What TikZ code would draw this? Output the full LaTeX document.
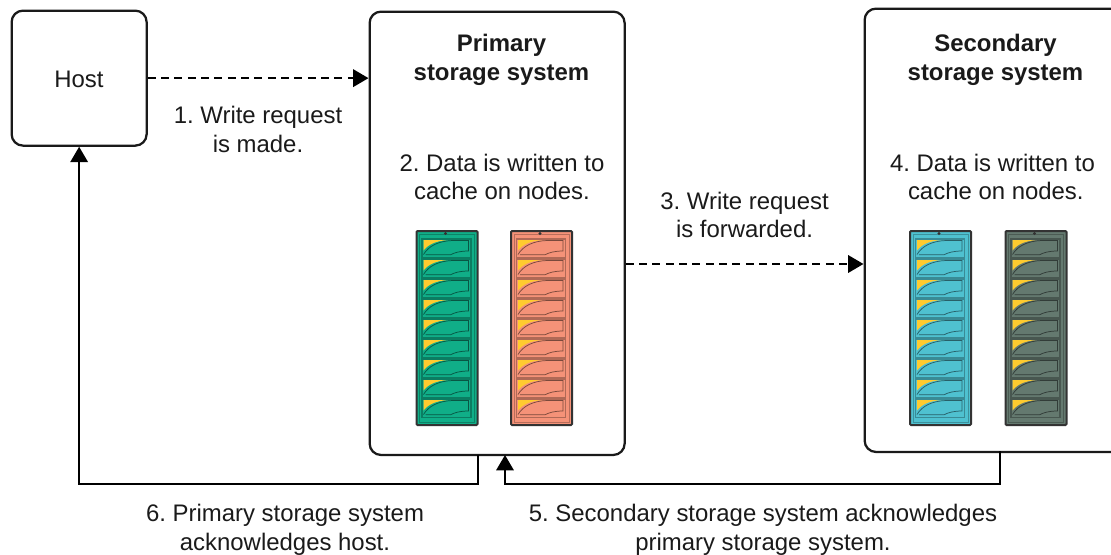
\documentclass[tikz,border=0pt]{standalone}
\usepackage{fontspec}
\setmainfont{Liberation Sans}
\usetikzlibrary{arrows.meta}
\definecolor{cgreen}{HTML}{10AE88}
\definecolor{csalmon}{HTML}{F59278}
\definecolor{cblue}{HTML}{4FC1D0}
\definecolor{cslate}{HTML}{64796F}
\definecolor{cyel}{HTML}{FFCB2F}
\definecolor{ink}{HTML}{1A1A1A}
\tikzset{
  x=0.75pt,y=-0.75pt,
  box/.style={draw=ink,line width=1.7pt,rounded corners=8.5pt,fill=white},
  lbl/.style={font=\fontsize{17.95}{21.6}\selectfont,align=center,text=ink,inner sep=0pt},
  title/.style={lbl,font=\fontsize{17.95}{21.6}\selectfont\bfseries},
  conn/.style={draw=black,line width=1.7pt,-{Triangle[length=11.5pt,width=13pt]}},
  dconn/.style={conn,dash pattern=on 6pt off 4pt},
  rackbody/.style={draw=black!80,line width=1.5pt,rounded corners=0.8pt},
  pics/rack/.style={code={
    \fill[#1,rackbody] (0,0) rectangle (61,194);
    \draw[#1!75!black,line width=0.7pt] (3,3) rectangle (58,191);
    \fill[black!80] (29,2.5) circle (1.6);
    \foreach \k in {0,...,8}{
      \begin{scope}[yshift=-\k*15pt]
        \draw[#1!72!black,line width=0.8pt] (5.5,8) rectangle (54.5,26.5);
        \fill[cyel] (7,9) -- (31,9) .. controls (20,10) and (12,13) .. (7,19.5) -- cycle;
        \draw[#1!50!black,line width=0.55pt] (7,23.5) .. controls (12,15) and (22,10) .. (36,9.5) -- (52,9.5) -- (52,20) .. controls (44,20) and (38,21.5) .. (34,23.8) -- (9,23.8);
      \end{scope}
    }
  }}
}
\begin{document}
\begin{tikzpicture}
\frenchspacing
\useasboundingbox (0,0) rectangle (1111,554);
\clip (0,0) rectangle (1111,554);
\node[box,minimum width=101.25pt,minimum height=101.25pt,anchor=north west,inner sep=0pt] (host) at (10.5,9.5) {};
\node[lbl] (hostt) at (79,79) {Host};
\node[box,minimum width=191.25pt,minimum height=332.5pt,anchor=north west,inner sep=0pt] (prim) at (368.5,10.5) {};
\node[box,minimum width=195pt,minimum height=332.5pt,anchor=north west,inner sep=0pt] (sec) at (863.5,7.5) {};
\node[title] (ptitle) at (501.5,60) {Primary\\storage system};
\node[title] (stitle) at (995.5,60) {Secondary\\storage system};
\node[lbl] (l1) at (258,129.5) {1. Write request\\is made.};
\node[lbl] (l2) at (502,177) {2. Data is written to\\cache on nodes.};
\node[lbl] (l3) at (744.5,215) {3. Write request\\is forwarded.};
\node[lbl] (l4) at (992.5,177) {4. Data is written to\\\hspace*{5pt}cache on nodes.};
\node[lbl] (l5) at (763,529.5) {5. Secondary storage system acknowledges\\primary storage system.};
\node[lbl] (l6) at (285,529.5) {6. Primary storage system\\acknowledges host.};
\pic (r1) at (416.5,231) {rack=cgreen};
\pic (r2) at (511,231) {rack=csalmon};
\pic (r3) at (910,231) {rack=cblue};
\pic (r4) at (1005.5,231) {rack=cslate};
\coordinate (pin) at (prim.west |- host.east);
\coordinate (pout) at ([yshift=-253.5*0.75pt]prim.north east);
\coordinate (sin) at (sec.west |- pout);
\draw[dconn] (host.east) -- (pin);
\draw[dconn] (pout) -- (sin);
\coordinate (pa) at (478,455);
\coordinate (pb) at (505,455);
\coordinate (sa) at (1000,451);
\draw[conn] (sa) -- (1000,484) -| (pb);
\draw[conn] (pa) -- (478,484) -| (host.south);
\end{tikzpicture}
\end{document}
